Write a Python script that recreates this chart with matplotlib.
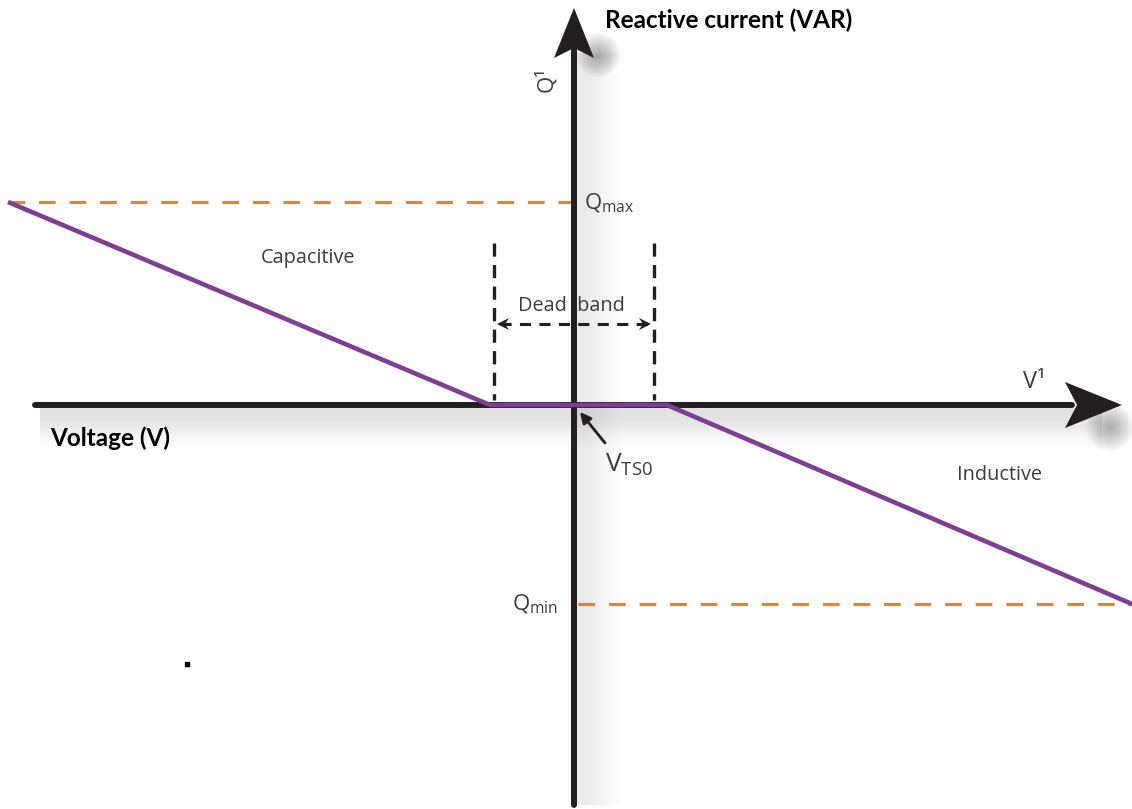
import numpy as np
import matplotlib.pyplot as plt
from matplotlib.patches import Polygon

plt.rcParams['lines.scale_dashes'] = False
plt.rcParams['mathtext.fontset'] = 'custom'
plt.rcParams['mathtext.rm'] = 'Open Sans'
plt.rcParams['mathtext.it'] = 'Open Sans:italic'

# characteristic (V offset, Q offset from the operating point)
v_curve = [-566, -84, 93, 558]
q_curve = [203, 0, 0, -199]
q_max = 203
q_min = -199
deadband = [-80, 80]
deadband_top = 162
band_arrow_y = 81

# axes extents
v_axis = [-539, 548]
q_axis = [-400, 397]

PURPLE = '#7d3f8f'
ORANGE = '#e0872e'
INK = '#231f20'
GRAY_TXT = '#3c3c3c'


def stealth(ax, tip, direction, length, hw, notch, color, z=6):
    tip = np.array(tip, float)
    d = np.array(direction, float)
    d /= np.linalg.norm(d)
    p = np.array([-d[1], d[0]])
    pts = [tip,
           tip - d * length + p * hw,
           tip - d * (length - notch),
           tip - d * length - p * hw]
    ax.add_patch(Polygon(pts, closed=True, color=color, zorder=z, lw=0))


def fade(d, start, end):
    t = np.clip((d - start) / (end - start), 0, 1)
    return 1 - t * t * (3 - 2 * t)


def shadow_v(ax, x0, width, y0, y1, a0=0.11, steps=40):
    # strips to the right of the vertical axis
    edges = np.linspace(0, width, steps + 1)
    for a, b in zip(edges[:-1], edges[1:]):
        al = a0 * fade((a + b) / 2, 6, width)
        ax.fill_between([x0 + a, x0 + b], y0, y1, color='#505050', alpha=al, lw=0, zorder=1)


def shadow_h(ax, y0, depth, x0, x1, a0=0.16, steps=40):
    # strips below the horizontal axis
    edges = np.linspace(0, depth, steps + 1)
    for a, b in zip(edges[:-1], edges[1:]):
        al = a0 * fade((a + b) / 2, 6, depth)
        ax.fill_between([x0, x1], y0 - a, y0 - b, color='#505050', alpha=al, lw=0, zorder=1)


def blob(ax, cx, cy, r, a0=0.5, steps=14):
    for k in range(steps, 0, -1):
        rr = r * k / steps
        circ = plt.Circle((cx, cy), rr, color='#404040', alpha=a0 / steps, lw=0, zorder=1)
        ax.add_patch(circ)


fig = plt.figure(figsize=(11.32, 8.09), dpi=100)
ax = fig.add_axes([0, 0, 1, 1])
ax.set_xlim(-574, 558)
ax.set_ylim(-404, 405)
ax.axis('off')

# soft shadows of the axes
shadow_v(ax, 2, 50, q_axis[0], q_axis[1] - 45)
shadow_h(ax, -3, 42, v_axis[0] + 5, v_axis[1] - 20)
blob(ax, 24, 350, 22)
blob(ax, 536, -22, 24)

# axes
ax.plot([v_axis[0], v_axis[1] - 50], [0, 0], color=INK, lw=4.3, zorder=5,
        solid_capstyle='round')
ax.plot([0, 0], [q_axis[0], q_axis[1] - 42], color=INK, lw=4.3, zorder=5,
        solid_capstyle='round')
stealth(ax, (v_axis[1], 0), (1, 0), 57, 23, 12, INK)
stealth(ax, (0, q_axis[1]), (0, 1), 50, 20, 10, INK)

# limits
ax.plot([v_curve[0], 0], [q_max, q_max], color=ORANGE, lw=2.3, dashes=(12, 10), zorder=3)
ax.plot([4, v_curve[-1]], [q_min, q_min], color=ORANGE, lw=2.3, dashes=(12, 10), zorder=3)

# dead band markers
for v in deadband:
    ax.plot([v, v], [deadband_top, 5], color=INK, lw=2.4, dashes=(9.5, 6), zorder=3)
ax.plot([deadband[0] + 6, deadband[1] - 6], [band_arrow_y, band_arrow_y], color=INK,
        lw=2.2, dashes=(8, 6), zorder=3)
for end, sgn in [(deadband[0] + 3, -1), (deadband[1] - 3, 1)]:
    stealth(ax, (end, band_arrow_y), (sgn, 0), 12, 6, 4, INK, z=4)

# characteristic
ax.plot(v_curve, q_curve, color=PURPLE, lw=3.3, zorder=7, solid_capstyle='butt')

# operating point pointer
ax.annotate('', xy=(6, -7), xytext=(31, -38),
            arrowprops=dict(arrowstyle='-|>', lw=2, color=INK, mutation_scale=16,
                            shrinkA=0, shrinkB=0), zorder=8)

lab = dict(color=GRAY_TXT, fontsize=14.3, family='Open Sans')
ax.text(-266, 147, 'Capacitive', ha='center', va='center', **lab)
ax.text(426, -70, 'Inductive', ha='center', va='center', **lab)
ax.text(-3, 99, 'Dead  band', ha='center', va='center', **lab)
ax.text(10, 213, r'$\mathrm{Q_{max}}$', ha='left', va='top', color=GRAY_TXT, fontsize=16)
ax.text(-16, -199, r'$\mathrm{Q_{min}}$', ha='right', va='center', color=GRAY_TXT, fontsize=16)
ax.text(31, -60, r'$\mathrm{V_{TS0}}$', ha='left', va='center', color=GRAY_TXT, fontsize=19)
ax.text(460, 23, 'V\u00b9', ha='center', va='center', color=GRAY_TXT, fontsize=17,
        family='Open Sans')
ax.text(-28, 325, 'Q\u00b9', ha='center', va='center', rotation=90, color=GRAY_TXT,
        fontsize=16, family='Open Sans')

bold = dict(color='black', fontsize=17.5, family='Lato', fontweight='bold')
ax.text(-524, -33, 'Voltage (V)', ha='left', va='center', **bold)
ax.text(31, 385, 'Reactive current (VAR)', ha='left', va='center', **bold)

# stray dot from the source drawing
ax.plot([-387], [-259], marker='s', ms=3, color='black', zorder=5)

fig.savefig('out.png', dpi=100)
